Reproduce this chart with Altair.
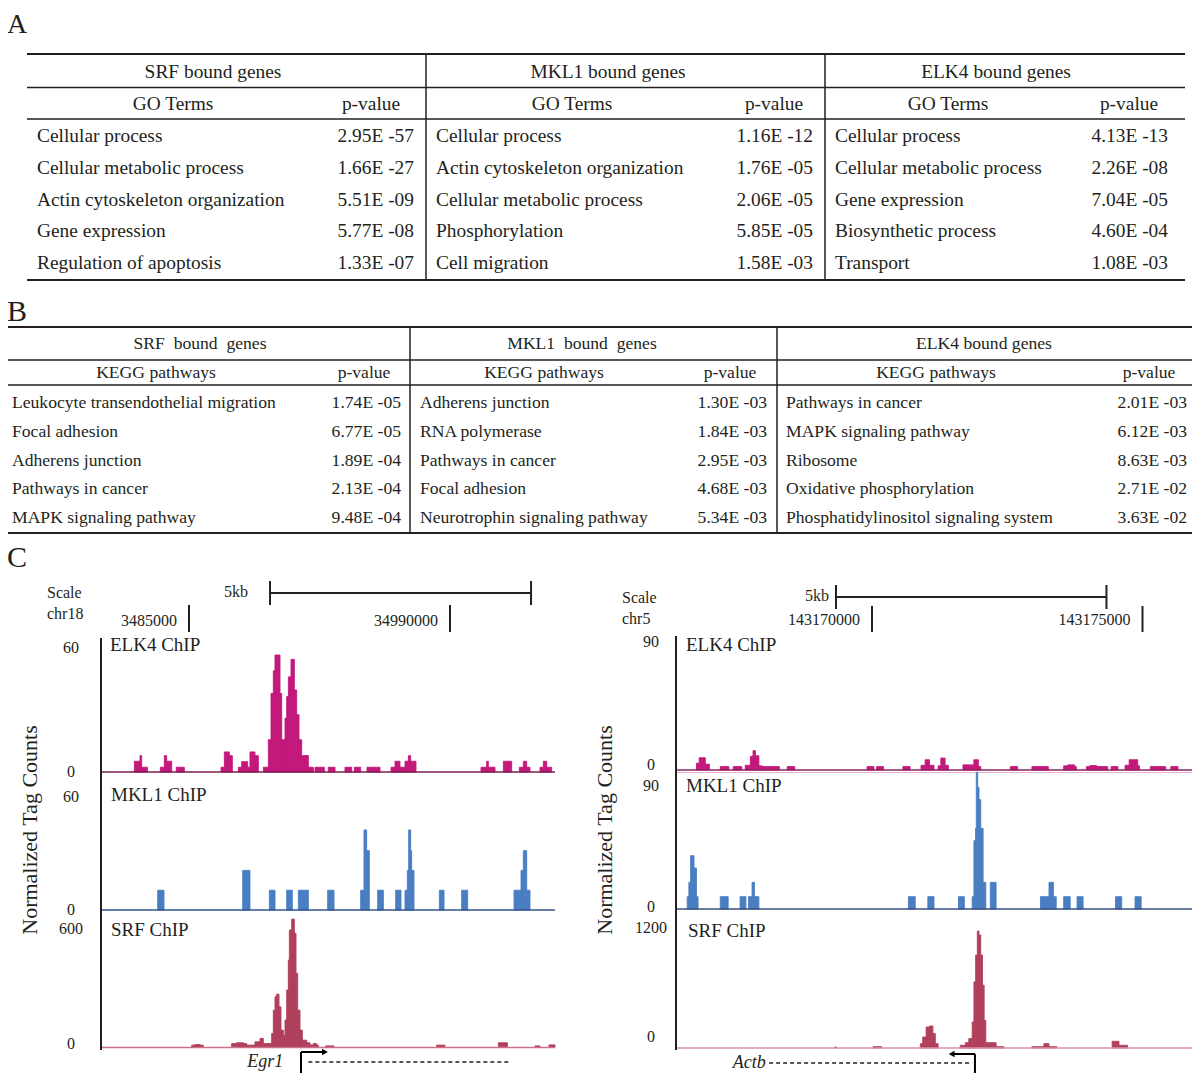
import altair as alt
import pandas as pd

FONT = "Liberation Serif"
INK = "#231f20"
M = 8  # page margin (page px -> chart px)

# ---------------- Panel A : GO terms ----------------
SRF_GO_TERMS = ["Cellular process", "Cellular metabolic process", "Actin cytoskeleton organization",
                "Gene expression", "Regulation of apoptosis"]
SRF_GO_P = ["2.95E -57", "1.66E -27", "5.51E -09", "5.77E -08", "1.33E -07"]
MKL1_GO_TERMS = ["Cellular process", "Actin cytoskeleton organization", "Cellular metabolic process",
                 "Phosphorylation", "Cell migration"]
MKL1_GO_P = ["1.16E -12", "1.76E -05", "2.06E -05", "5.85E -05", "1.58E -03"]
ELK4_GO_TERMS = ["Cellular process", "Cellular metabolic process", "Gene expression",
                 "Biosynthetic process", "Transport"]
ELK4_GO_P = ["4.13E -13", "2.26E -08", "7.04E -05", "4.60E -04", "1.08E -03"]

# ---------------- Panel B : KEGG pathways ----------------
SRF_KEGG = ["Leukocyte transendothelial migration", "Focal adhesion", "Adherens junction",
            "Pathways in cancer", "MAPK signaling pathway"]
SRF_KEGG_P = ["1.74E -05", "6.77E -05", "1.89E -04", "2.13E -04", "9.48E -04"]
MKL1_KEGG = ["Adherens junction", "RNA polymerase", "Pathways in cancer", "Focal adhesion",
             "Neurotrophin signaling pathway"]
MKL1_KEGG_P = ["1.30E -03", "1.84E -03", "2.95E -03", "4.68E -03", "5.34E -03"]
ELK4_KEGG = ["Pathways in cancer", "MAPK signaling pathway", "Ribosome", "Oxidative phosphorylation",
             "Phosphatidylinositol signaling system"]
ELK4_KEGG_P = ["2.01E -03", "6.12E -03", "8.63E -03", "2.71E -02", "3.63E -02"]

# ---------------- Panel C : tracks (segments: start kb, end kb from view start, value) ----------------
LEFT_VIEW_KB = (34983.314, 34992.011)       # chr18
LEFT_TICKS_KB = [34985.0, 34990.0]
LEFT_TICK_LABELS = ["3485000", "34990000"]
LEFT_SCALEBAR_KB = 34986.552
RIGHT_VIEW_KB = (143166.377, 143176.026)    # chr5
RIGHT_TICKS_KB = [143170.0, 143175.0]
RIGHT_TICK_LABELS = ["143170000", "143175000"]
RIGHT_SCALEBAR_KB = 143169.334
SCALEBAR_LEN_KB = 5.0

LEFT_ELK4 = [
    [0.639, 0.747, 5.2], [0.747, 0.779, 7.9], [0.779, 0.888, 2.3],
    [1.137, 1.213, 2.3], [1.213, 1.258, 7.9], [1.258, 1.354, 5.2],
    [1.443, 1.596, 2.3],
    [2.299, 2.363, 2.3], [2.363, 2.458, 9.7], [2.458, 2.516, 7.9],
    [2.631, 2.695, 2.3], [2.695, 2.810, 5.0], [2.810, 2.854, 2.3], [2.854, 2.950, 9.7], [2.950, 3.014, 7.9],
    [3.110, 3.206, 2.3], [3.206, 3.257, 15.6], [3.257, 3.301, 38], [3.301, 3.333, 49], [3.333, 3.429, 56.6],
    [3.429, 3.461, 38], [3.461, 3.525, 15.6], [3.525, 3.557, 26], [3.557, 3.589, 36.5], [3.589, 3.640, 46],
    [3.640, 3.704, 54.5], [3.704, 3.748, 39.7], [3.748, 3.793, 27.7], [3.793, 3.844, 15.6], [3.844, 3.908, 7.9],
    [3.908, 3.972, 8], [3.972, 4.068, 2.3],
    [4.100, 4.278, 2.3], [4.355, 4.483, 2.3], [4.674, 4.802, 2.3], [4.853, 4.974, 2.3], [5.096, 5.345, 2.3],
    [5.556, 5.632, 2.3], [5.632, 5.728, 5.2], [5.728, 5.824, 2.3], [5.824, 5.888, 5.2], [5.888, 5.932, 7.9],
    [5.932, 6.034, 5.2],
    [7.280, 7.388, 2.3], [7.388, 7.420, 5.2], [7.420, 7.548, 2.3],
    [7.708, 7.867, 5.2],
    [8.014, 8.091, 2.3], [8.091, 8.155, 5.2], [8.155, 8.218, 2.3],
    [8.410, 8.474, 2.3], [8.474, 8.538, 5.2], [8.538, 8.633, 2.3],
]
LEFT_MKL1 = [
    [1.086, 1.207, 10.5], [2.714, 2.854, 21], [3.225, 3.333, 10.5], [3.557, 3.665, 10.5],
    [3.780, 3.972, 10.5], [4.342, 4.464, 10.5],
    [4.974, 5.038, 10.5], [5.038, 5.089, 42.5], [5.089, 5.140, 31.5],
    [5.300, 5.409, 10.5], [5.645, 5.747, 10.5],
    [5.824, 5.868, 10.5], [5.868, 5.894, 21], [5.894, 5.932, 42.5], [5.932, 5.951, 31.5], [5.951, 5.996, 21],
    [6.482, 6.571, 10.5], [6.909, 7.024, 10.5],
    [7.912, 8.046, 10.5], [8.046, 8.091, 21], [8.091, 8.155, 31.5], [8.155, 8.218, 10.5],
]
LEFT_SRF = [
    [1.737, 1.801, 12], [1.801, 1.897, 15], [1.897, 1.960, 12],
    [2.503, 2.599, 20], [2.599, 2.727, 24], [2.727, 2.791, 20],
    [2.791, 2.950, 12], [2.950, 3.046, 29], [3.046, 3.110, 46], [3.110, 3.269, 20],
    [3.269, 3.301, 71], [3.301, 3.333, 189], [3.333, 3.365, 257], [3.365, 3.410, 270], [3.410, 3.448, 206],
    [3.448, 3.493, 88], [3.493, 3.525, 62],
    [3.525, 3.557, 139], [3.557, 3.589, 291], [3.589, 3.608, 443], [3.608, 3.653, 595], [3.653, 3.704, 650],
    [3.704, 3.736, 578], [3.736, 3.768, 375], [3.768, 3.812, 189], [3.812, 3.857, 88], [3.857, 3.940, 37],
    [3.940, 4.004, 24], [4.004, 4.068, 13], [4.068, 4.132, 20], [4.132, 4.163, 12],
    [4.304, 4.464, 8], [6.430, 6.590, 12], [7.612, 7.784, 24], [8.314, 8.410, 8], [8.582, 8.697, 13],
]
RIGHT_ELK4 = [
    [0.378, 0.428, 4.8], [0.428, 0.542, 8.6], [0.542, 0.617, 4.1],
    [0.819, 0.977, 2.4], [1.059, 1.216, 2.4],
    [1.280, 1.374, 3.3], [1.374, 1.424, 9.6], [1.424, 1.468, 13.6], [1.468, 1.532, 10], [1.532, 1.595, 2.9],
    [1.595, 1.911, 2.4], [2.055, 2.194, 2.4],
    [3.532, 3.658, 2.4], [3.709, 3.835, 2.4], [4.194, 4.327, 2.4],
    [4.529, 4.605, 3.3], [4.605, 4.687, 7.2], [4.687, 4.769, 3.3],
    [4.845, 4.895, 2.9], [4.895, 4.974, 8.4], [4.974, 5.034, 3.3],
    [5.305, 5.506, 3.6], [5.506, 5.589, 7.2], [5.589, 5.633, 2.4],
    [6.182, 6.314, 2.4], [6.579, 6.882, 2.4],
    [7.166, 7.242, 2.9], [7.242, 7.368, 3.6], [7.368, 7.399, 2.4],
    [7.589, 7.652, 2.4], [7.652, 7.778, 3.1], [7.778, 7.980, 2.4],
    [8.043, 8.169, 2.4],
    [8.301, 8.377, 3.3], [8.377, 8.535, 7.2], [8.535, 8.567, 2.9],
    [8.768, 9.052, 2.4], [9.147, 9.279, 2.4],
]
RIGHT_MKL1 = [
    [0.207, 0.238, 9], [0.238, 0.270, 19.5], [0.270, 0.333, 39], [0.333, 0.378, 30], [0.378, 0.408, 9],
    [0.819, 0.964, 9], [1.185, 1.292, 9],
    [1.342, 1.406, 9], [1.406, 1.450, 19.5], [1.450, 1.532, 9],
    [4.296, 4.422, 9], [4.655, 4.769, 9], [5.222, 5.330, 9],
    [5.475, 5.507, 9], [5.507, 5.539, 50], [5.539, 5.551, 59], [5.551, 5.577, 100], [5.577, 5.601, 89],
    [5.601, 5.633, 80], [5.633, 5.677, 59], [5.677, 5.727, 19.5],
    [5.810, 5.917, 19.5],
    [6.737, 6.895, 9], [6.895, 6.976, 19.5], [6.976, 7.028, 9],
    [7.166, 7.286, 9], [7.413, 7.525, 9], [8.125, 8.239, 9], [8.485, 8.598, 9],
]
RIGHT_SRF = [
    [2.933, 2.964, 10], [3.645, 3.803, 13],
    [4.516, 4.561, 43], [4.561, 4.623, 110], [4.623, 4.687, 210], [4.687, 4.749, 220], [4.749, 4.793, 144],
    [4.793, 4.845, 43],
    [5.254, 5.349, 27], [5.349, 5.412, 53], [5.412, 5.475, 94], [5.475, 5.507, 260], [5.507, 5.539, 661],
    [5.539, 5.570, 929], [5.570, 5.601, 1169], [5.601, 5.633, 1129], [5.633, 5.665, 929], [5.665, 5.696, 628],
    [5.696, 5.727, 277], [5.727, 5.917, 53], [5.917, 6.062, 13],
    [6.579, 6.800, 13], [6.800, 6.895, 43], [6.895, 7.040, 13],
    [8.062, 8.188, 67], [8.188, 8.345, 27],
]
# gene models: (tss kb, arrow tip kb, dashed start kb, dashed end kb, label right kb) from view start
EGR1 = dict(name="Egr1", tss=3.831, tip=4.291, d0=3.972, d1=7.803, lab=3.493)
ACTB = dict(name="Actb", tss=5.526, tip=5.096, d0=1.721, d1=5.475, lab=1.658)

ELK4_COL = "#c2197b"
MKL1_COL = "#4a7ec2"
SRF_COL = "#b0405c"

layers = []


def one():
    return pd.DataFrame({"k": [0]})


def label(text, x, y, size, align="left", baseline="middle", italic=False, angle=None, color=INK):
    kw = dict(align=align, baseline=baseline, font=FONT, fontSize=size, color=color)
    if italic:
        kw["fontStyle"] = "italic"
    if angle is not None:
        kw["angle"] = angle
    return alt.Chart(pd.DataFrame({"t": [text]})).mark_text(**kw).encode(
        x=alt.value(x - M), y=alt.value(y - M), text="t:N")


def hline(x1, x2, y, color=INK, width=1.5):
    return alt.Chart(one()).mark_rule(color=color, strokeWidth=width).encode(
        x=alt.value(x1 - M), x2=alt.value(x2 - M), y=alt.value(y - M))


def vline(x, y1, y2, color=INK, width=1.5):
    return alt.Chart(one()).mark_rule(color=color, strokeWidth=width).encode(
        x=alt.value(x - M), y=alt.value(y1 - M), y2=alt.value(y2 - M))


# ---------------- panel letters ----------------
layers += [label("A", 7, 11, 28, baseline="top"),
           label("B", 7, 321, 30, baseline="alphabetic"),
           label("C", 7, 567, 30, baseline="alphabetic")]


# ---------------- tables ----------------
def table(groups, rows_y, head1_y, head2_y, size, sub_title):
    out = []
    row_scale = alt.Scale(domain=[0, 4], range=[rows_y[0] - M, rows_y[1] - M], nice=False, zero=False)
    for g in groups:
        df = pd.DataFrame({"row": range(5), "term": g["terms"], "p": g["p"]})
        out.append(alt.Chart(df).mark_text(align="left", baseline="middle", font=FONT, fontSize=size,
                                           color=INK).encode(
            x=alt.value(g["tx"] - M), y=alt.Y("row:Q", scale=row_scale, axis=None), text="term:N"))
        out.append(alt.Chart(df).mark_text(align="right", baseline="middle", font=FONT, fontSize=size,
                                           color=INK).encode(
            x=alt.value(g["px"] - M), y=alt.Y("row:Q", scale=row_scale, axis=None), text="p:N"))
        out.append(label(g["head"], g["hc"], head1_y, size, align="center"))
        out.append(label(sub_title, g["sc"], head2_y, size, align="center"))
        out.append(label("p-value", g["pc"], head2_y, size, align="center"))
    return out


GO_GROUPS = [
    dict(terms=SRF_GO_TERMS, p=SRF_GO_P, tx=37, px=414, head="SRF bound genes", hc=213, sc=173, pc=371),
    dict(terms=MKL1_GO_TERMS, p=MKL1_GO_P, tx=436, px=813, head="MKL1 bound genes", hc=608, sc=572, pc=774),
    dict(terms=ELK4_GO_TERMS, p=ELK4_GO_P, tx=835, px=1168, head="ELK4 bound genes", hc=996, sc=948, pc=1129),
]
layers += table(GO_GROUPS, (136, 263), 72, 104, 19.4, "GO Terms")
layers += [hline(27, 1185, 54, width=2), hline(27, 1185, 87.5), hline(27, 1185, 119), hline(27, 1185, 280, width=2),
           vline(426, 54, 280), vline(825, 54, 280)]

KEGG_GROUPS = [
    dict(terms=SRF_KEGG, p=SRF_KEGG_P, tx=12, px=401, head="SRF\u00a0 bound\u00a0 genes", hc=200, sc=156, pc=364),
    dict(terms=MKL1_KEGG, p=MKL1_KEGG_P, tx=420, px=767, head="MKL1\u00a0 bound\u00a0 genes", hc=582, sc=544, pc=730),
    dict(terms=ELK4_KEGG, p=ELK4_KEGG_P, tx=786, px=1187, head="ELK4 bound genes", hc=984, sc=936, pc=1149),
]
layers += table(KEGG_GROUPS, (403, 518), 344, 373, 17.6, "KEGG pathways")
layers += [hline(5, 1197, 327, width=2), hline(5, 1197, 360), hline(5, 1197, 385), hline(5, 1197, 533, width=2),
           vline(410, 327, 533), vline(777, 327, 533)]


# ---------------- genome browser panels ----------------
def panel(view, x0, x1, tracks, ticks, tick_labels, tick_geom, scalebar, sb_y, sb_text_x, sc_x, sc_y,
          axis_x, axis_y, ylab_x, lab_cx, gene, gene_geom, chr_name):
    start, end = view
    xs = alt.Scale(domain=[start, end], range=[x0 - M, x1 - M], nice=False, zero=False)
    out = []
    for tr in tracks:
        ys = alt.Scale(domain=[0, tr["vmax"]], range=[tr["base"] - M, tr["top"] - M], nice=False, zero=False)
        df = pd.DataFrame(tr["segs"], columns=["s", "e", "v"])
        df["s"] = df["s"] + start
        df["e"] = df["e"] + start
        df["z"] = 0.0
        out.append(alt.Chart(df).mark_rect(color=tr["color"], stroke=tr["color"], strokeWidth=0.9).encode(
            x=alt.X("s:Q", scale=xs, axis=None), x2="e:Q",
            y=alt.Y("v:Q", scale=ys, axis=None), y2="z:Q"))
        bdf = pd.DataFrame({"a": [start], "b": [end], "z": [0.0]})
        out.append(alt.Chart(bdf).mark_rule(color=tr["base_color"], strokeWidth=1.6).encode(
            x=alt.X("a:Q", scale=xs, axis=None), x2="b:Q", y=alt.Y("z:Q", scale=ys, axis=None)))
        tdf = pd.DataFrame({"v": [tr["vmax"]], "lab": [str(tr["vmax"])]})
        out.append(alt.Chart(tdf).mark_text(align="center", baseline="middle", font=FONT, fontSize=16,
                                            color=INK).encode(
            x=alt.value(lab_cx - M), y=alt.Y("v:Q", scale=ys, axis=None), text="lab:N"))
        zdf = pd.DataFrame({"v": [0.0], "lab": ["0"]})
        out.append(alt.Chart(zdf).mark_text(align="center", baseline="middle", font=FONT, fontSize=16,
                                            color=INK, dy=tr["zero_dy"]).encode(
            x=alt.value(lab_cx - M), y=alt.Y("v:Q", scale=ys, axis=None), text="lab:N"))
        out.append(label(tr["name"], tr["name_x"], tr["name_y"], 19))
    # left axis line
    out.append(vline(axis_x, axis_y[0], axis_y[1], width=2))
    out.append(label("Normalized Tag Counts", ylab_x, 830, 22, align="center", angle=270))
    # scale bar
    sbdf = pd.DataFrame({"a": [scalebar], "b": [scalebar + SCALEBAR_LEN_KB]})
    out.append(alt.Chart(sbdf).mark_rule(color=INK, strokeWidth=2).encode(
        x=alt.X("a:Q", scale=xs, axis=None), x2="b:Q", y=alt.value(sb_y - M)))
    sedf = pd.DataFrame({"p": [scalebar, scalebar + SCALEBAR_LEN_KB]})
    out.append(alt.Chart(sedf).mark_rule(color=INK, strokeWidth=2).encode(
        x=alt.X("p:Q", scale=xs, axis=None), y=alt.value(sb_y - 12 - M), y2=alt.value(sb_y + 12 - M)))
    out.append(label("5kb", sb_text_x, sb_y - 1, 16, align="right"))
    out.append(label("Scale", sc_x, sc_y, 16))
    out.append(label(chr_name, sc_x, sc_y + 21, 16))
    # coordinate ticks
    tkdf = pd.DataFrame({"p": ticks, "lab": tick_labels})
    ty0, ty1, tly = tick_geom
    out.append(alt.Chart(tkdf).mark_rule(color=INK, strokeWidth=2).encode(
        x=alt.X("p:Q", scale=xs, axis=None), y=alt.value(ty0 - M), y2=alt.value(ty1 - M)))
    out.append(alt.Chart(tkdf).mark_text(align="right", baseline="middle", font=FONT, fontSize=16, color=INK,
                                         dx=-12).encode(
        x=alt.X("p:Q", scale=xs, axis=None), y=alt.value(tly - M), text="lab:N"))
    # gene model
    gy_arrow, gy_bottom, gy_dash, gy_text = gene_geom
    g = pd.DataFrame({"tss": [gene["tss"] + start], "tip": [gene["tip"] + start],
                      "d0": [gene["d0"] + start], "d1": [gene["d1"] + start],
                      "lab": [gene["lab"] + start], "name": [gene["name"]]})
    out.append(alt.Chart(g).mark_rule(color=INK, strokeWidth=1.3, strokeDash=[4, 3]).encode(
        x=alt.X("d0:Q", scale=xs, axis=None), x2="d1:Q", y=alt.value(gy_dash - M)))
    out.append(alt.Chart(g).mark_rule(color="black", strokeWidth=2).encode(
        x=alt.X("tss:Q", scale=xs, axis=None), y=alt.value(gy_arrow - M), y2=alt.value(gy_bottom - M)))
    out.append(alt.Chart(g).mark_rule(color="black", strokeWidth=2).encode(
        x=alt.X("tss:Q", scale=xs, axis=None), x2="tip:Q", y=alt.value(gy_arrow - M)))
    shape = "triangle-right" if gene["tip"] > gene["tss"] else "triangle-left"
    out.append(alt.Chart(g).mark_point(shape=shape, filled=True, size=45, color="black", opacity=1).encode(
        x=alt.X("tip:Q", scale=xs, axis=None), y=alt.value(gy_arrow - M)))
    out.append(alt.Chart(g).mark_text(align="right", baseline="middle", font=FONT, fontSize=18,
                                      fontStyle="italic", color=INK).encode(
        x=alt.X("lab:Q", scale=xs, axis=None), y=alt.value(gy_text - M), text="name:N"))
    return out


LEFT_TRACKS = [
    dict(segs=LEFT_ELK4, vmax=60, base=772, top=648, color=ELK4_COL, base_color="#7d1d4e", zero_dy=0,
         name="ELK4 ChIP", name_x=110, name_y=645),
    dict(segs=LEFT_MKL1, vmax=60, base=910, top=797, color=MKL1_COL, base_color="#33558c", zero_dy=0,
         name="MKL1 ChIP", name_x=111, name_y=795),
    dict(segs=LEFT_SRF, vmax=600, base=1047.5, top=929, color=SRF_COL, base_color="#cc6f88", zero_dy=-4,
         name="SRF ChIP", name_x=111, name_y=930),
]
RIGHT_TRACKS = [
    dict(segs=RIGHT_ELK4, vmax=90, base=770, top=642, color=ELK4_COL, base_color="#8e2560", zero_dy=-5,
         name="ELK4 ChIP", name_x=686, name_y=645),
    dict(segs=RIGHT_MKL1, vmax=90, base=909, top=786, color=MKL1_COL, base_color="#34507e", zero_dy=-2,
         name="MKL1 ChIP", name_x=686, name_y=786),
    dict(segs=RIGHT_SRF, vmax=1200, base=1048, top=928, color=SRF_COL, base_color="#d993a6", zero_dy=-11,
         name="SRF ChIP", name_x=688, name_y=931),
]

layers += panel(LEFT_VIEW_KB, 101, 555, LEFT_TRACKS, LEFT_TICKS_KB, LEFT_TICK_LABELS, (605, 632, 621),
                LEFT_SCALEBAR_KB, 593, 248, 47, 593, 101, (638, 1050), 30, 71, EGR1,
                (1052, 1073, 1062, 1062), "chr18")
layers.append(hline(676, 1198, 772.5, color="#e8b0cf", width=1.2))
layers += panel(RIGHT_VIEW_KB, 676, 1198, RIGHT_TRACKS, RIGHT_TICKS_KB, RIGHT_TICK_LABELS, (606, 632, 620),
                RIGHT_SCALEBAR_KB, 597, 829, 622, 598, 676, (636, 1050), 605, 651, ACTB,
                (1054, 1073, 1063, 1063), "chr5")

chart = alt.layer(*layers).resolve_scale(x="independent", y="independent").properties(
    width=1184, height=1065, padding=0, autosize=alt.AutoSizeParams(type="none")
).configure(font=FONT).configure_view(strokeWidth=0)

chart.save("out.html", embed_options={"renderer": "svg", "actions": False})
